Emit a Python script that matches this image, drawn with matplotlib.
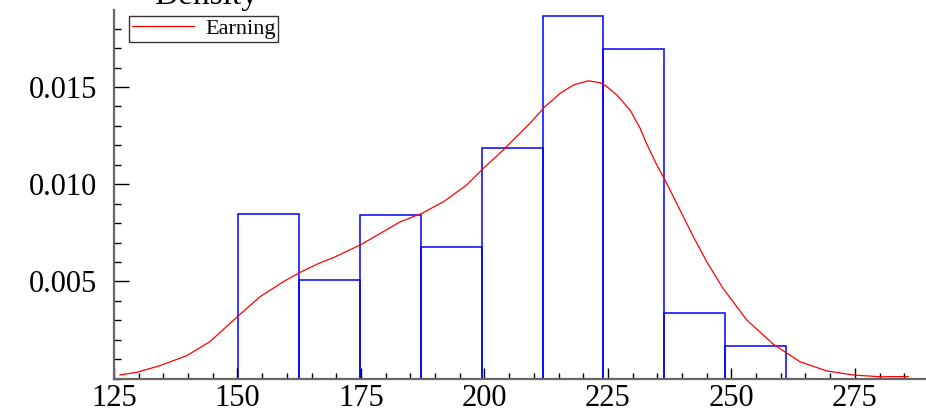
import matplotlib
matplotlib.use("Agg")
import matplotlib.pyplot as plt
from matplotlib.ticker import MultipleLocator, FixedLocator, FormatStrFormatter

# histogram of earnings (48 observations)
bin_edges = [150.2, 162.5, 174.8, 187.2, 199.5, 211.8, 224.1, 236.4, 248.7, 261.0]
counts = [5, 3, 5, 4, 7, 11, 10, 2, 1]

# density curve
kde_x = [126.2, 129.6, 134.3, 139.7, 144.4, 150.2, 154.6, 159.3, 162.7, 166.7,
         169.4, 175.1, 182.9, 187.3, 191.7, 196.4, 199.8, 203.8, 205.8, 209.2,
         212.1, 215.3, 218.0, 221.0, 223.4, 224.6, 226.8, 229.5, 231.5, 232.8,
         234.9, 236.9, 239.6, 242.3, 245.0, 248.3, 253.1, 258.5, 263.9, 269.3,
         274.7, 280.1, 285.8]
kde_y = [0.00019, 0.00033, 0.00067, 0.00118, 0.00190, 0.00324, 0.00422, 0.00499, 0.00547, 0.00596,
         0.00622, 0.00691, 0.00806, 0.00850, 0.00910, 0.00996, 0.01082, 0.01176, 0.01227, 0.01313,
         0.01395, 0.01467, 0.01510, 0.01532, 0.01522, 0.01506, 0.01459, 0.01381, 0.01289, 0.01210,
         0.01099, 0.01005, 0.00867, 0.00730, 0.00602, 0.00465, 0.00302, 0.00177, 0.00087, 0.00040,
         0.00019, 0.00010, 0.00011]

x_ticks = [125, 150, 175, 200, 225, 250, 275]
y_ticks = [0.005, 0.010, 0.015]

plt.rcParams['font.family'] = ['Liberation Serif', 'DejaVu Serif']

fig = plt.figure(figsize=(9.26, 4.16), dpi=100)
ax = fig.add_axes([114 / 926, 1 - 378.7 / 416, 1 - 114 / 926, (378.7 - 10) / 416])

ax.hist(bin_edges[:-1], bins=bin_edges, weights=counts, density=True,
        histtype='bar', fill=False, edgecolor='#0000ff', linewidth=1.1)
ax.plot(kde_x, kde_y, color='#ff0000', linewidth=0.9, label='Earning',
        solid_joinstyle='round')

ax.set_xlim(125, 289.4)
ax.set_ylim(0, 0.01896)

for s in ['top', 'right']:
    ax.spines[s].set_visible(False)
for s in ['left', 'bottom']:
    ax.spines[s].set_color('#666666')
    ax.spines[s].set_linewidth(1.6)

ax.xaxis.set_major_locator(FixedLocator(x_ticks))
ax.xaxis.set_minor_locator(MultipleLocator(5))
ax.yaxis.set_major_locator(FixedLocator(y_ticks))
ax.yaxis.set_minor_locator(MultipleLocator(0.001))
ax.yaxis.set_major_formatter(FormatStrFormatter('%.3f'))

ax.tick_params(axis='x', which='major', direction='in', length=8, width=1, pad=4, labelsize=22)
ax.tick_params(axis='x', which='minor', direction='in', length=4, width=1)
ax.tick_params(axis='y', which='major', direction='in', length=11, width=1, pad=12, labelsize=22)
ax.tick_params(axis='y', which='minor', direction='in', length=5, width=1)

leg = ax.legend(loc='upper left', bbox_to_anchor=(129 / 926, 1 - 16 / 416),
                bbox_transform=fig.transFigure, fontsize=16, frameon=True,
                fancybox=False, handlelength=2.8, handletextpad=0.5,
                borderpad=0.12, borderaxespad=0)
leg.get_frame().set_edgecolor('black')
leg.get_frame().set_linewidth(1.0)

fig.text(206 / 926, 1 - 4 / 416, 'Density', ha='center', va='baseline', fontsize=24)

fig.savefig('out.png', dpi=100)
